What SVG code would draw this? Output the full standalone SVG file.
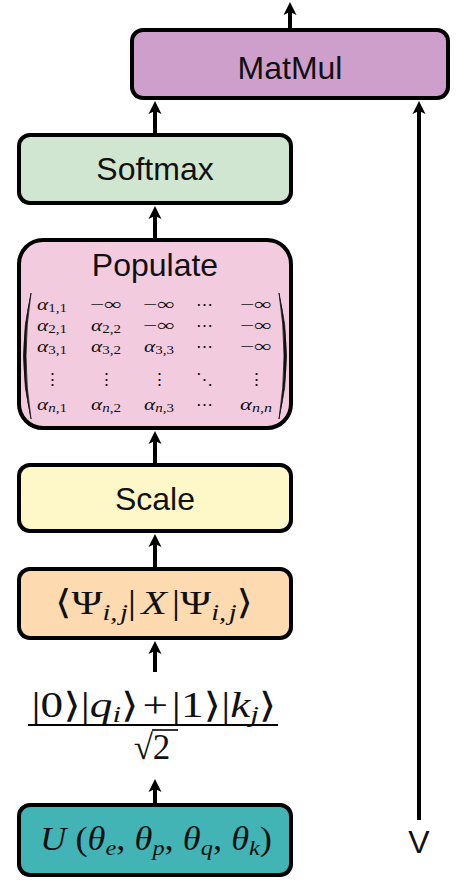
<svg xmlns="http://www.w3.org/2000/svg" width="456" height="882" viewBox="0 0 456 882">
<defs>
<style>
.box{stroke:#000;stroke-width:4}
.lbl{font-family:"Liberation Sans",Arial,sans-serif;font-size:32px;text-anchor:middle;fill:#111}
.m{font-family:"Liberation Serif","DejaVu Serif",serif;fill:#111;text-anchor:middle}
.i{font-style:italic}
.cn{stroke:#000;stroke-width:4;fill:none;marker-end:url(#ah)}
.mx{font-family:"Liberation Serif","DejaVu Serif",serif;font-size:17px;fill:#111;text-anchor:middle}
.s{font-size:12px}
.par{fill:#111;stroke:#111;stroke-width:0.8}
</style>
<marker id="ah" viewBox="-6 -8 16 16" markerWidth="16" markerHeight="16" refX="0" refY="0" orient="auto" markerUnits="userSpaceOnUse" overflow="visible">
<path d="M8,0 L-5,-6.5 L-2,0 L-5,6.5 Z" fill="#000"/>
</marker>
</defs>

<g id="connectors">
<line class="cn" x1="290" y1="28" x2="290" y2="10"/>
<line class="cn" x1="155" y1="133" x2="155" y2="109"/>
<line class="cn" x1="155" y1="238" x2="155" y2="214"/>
<line class="cn" x1="155" y1="463" x2="155" y2="439"/>
<line class="cn" x1="155" y1="567" x2="155" y2="542"/>
<line class="cn" x1="155" y1="672" x2="155" y2="649" stroke-width="5"/>
<line class="cn" x1="155" y1="803" x2="155" y2="787"/>
<line class="cn" x1="419" y1="820" x2="419" y2="109"/>
</g>

<g id="matmul">
<rect class="box" x="132" y="30" width="316" height="68" rx="11" fill="#CF9FCB"/>
<text class="lbl" x="290" y="79">MatMul</text>
</g>

<g id="softmax">
<rect class="box" x="19" y="135" width="272" height="68" rx="11" fill="#D1E6D1"/>
<text class="lbl" x="155" y="180">Softmax</text>
</g>

<g id="populate">
<rect class="box" x="19" y="240" width="272" height="188" rx="24" fill="#F2CBDF"/>
<text class="lbl" x="155" y="276">Populate</text>
<path class="par" d="M31,293 Q16,356 31,419 Q21,356 31,293 Z"/>
<path class="par" d="M279,293 Q294,356 279,419 Q289,356 279,293 Z"/>
<text class="mx" x="52" y="310" textLength="30" lengthAdjust="spacingAndGlyphs"><tspan class="i">α</tspan><tspan class="s" dy="2">1,1</tspan></text>
<text class="mx" x="106" y="310" textLength="32" lengthAdjust="spacingAndGlyphs" font-size="18">−∞</text>
<text class="mx" x="159" y="310" textLength="32" lengthAdjust="spacingAndGlyphs" font-size="18">−∞</text>
<text class="mx" x="204" y="310">⋯</text>
<text class="mx" x="256" y="310" textLength="32" lengthAdjust="spacingAndGlyphs" font-size="18">−∞</text>
<text class="mx" x="52" y="331" textLength="30" lengthAdjust="spacingAndGlyphs"><tspan class="i">α</tspan><tspan class="s" dy="2">2,1</tspan></text>
<text class="mx" x="106" y="331" textLength="30" lengthAdjust="spacingAndGlyphs"><tspan class="i">α</tspan><tspan class="s" dy="2">2,2</tspan></text>
<text class="mx" x="159" y="331" textLength="32" lengthAdjust="spacingAndGlyphs" font-size="18">−∞</text>
<text class="mx" x="204" y="331">⋯</text>
<text class="mx" x="256" y="331" textLength="32" lengthAdjust="spacingAndGlyphs" font-size="18">−∞</text>
<text class="mx" x="52" y="352" textLength="30" lengthAdjust="spacingAndGlyphs"><tspan class="i">α</tspan><tspan class="s" dy="2">3,1</tspan></text>
<text class="mx" x="106" y="352" textLength="30" lengthAdjust="spacingAndGlyphs"><tspan class="i">α</tspan><tspan class="s" dy="2">3,2</tspan></text>
<text class="mx" x="159" y="352" textLength="30" lengthAdjust="spacingAndGlyphs"><tspan class="i">α</tspan><tspan class="s" dy="2">3,3</tspan></text>
<text class="mx" x="204" y="352">⋯</text>
<text class="mx" x="256" y="352" textLength="32" lengthAdjust="spacingAndGlyphs" font-size="18">−∞</text>
<text class="mx" x="52" y="385">⋮</text>
<text class="mx" x="106" y="385">⋮</text>
<text class="mx" x="159" y="385">⋮</text>
<text class="mx" x="204" y="385">⋱</text>
<text class="mx" x="256" y="385">⋮</text>
<text class="mx" x="52" y="410" textLength="30" lengthAdjust="spacingAndGlyphs"><tspan class="i">α</tspan><tspan class="i s" dy="2">n</tspan><tspan class="s">,1</tspan></text>
<text class="mx" x="106" y="410" textLength="30" lengthAdjust="spacingAndGlyphs"><tspan class="i">α</tspan><tspan class="i s" dy="2">n</tspan><tspan class="s">,2</tspan></text>
<text class="mx" x="159" y="410" textLength="30" lengthAdjust="spacingAndGlyphs"><tspan class="i">α</tspan><tspan class="i s" dy="2">n</tspan><tspan class="s">,3</tspan></text>
<text class="mx" x="204" y="410">⋯</text>
<text class="mx" x="256" y="410" textLength="32" lengthAdjust="spacingAndGlyphs"><tspan class="i">α</tspan><tspan class="i s" dy="2">n,n</tspan></text>
</g>

<g id="scale">
<rect class="box" x="19" y="465" width="272" height="66" rx="11" fill="#FEF7C8"/>
<text class="lbl" x="155" y="510">Scale</text>
</g>

<g id="expectation">
<rect class="box" x="19" y="569" width="272" height="69" rx="11" fill="#FDDAB0"/>
<text class="m" x="154" y="614" font-size="34" textLength="198" lengthAdjust="spacingAndGlyphs">⟨Ψ<tspan class="i" font-size="23" dy="6">i,</tspan><tspan class="i" font-size="23" dx="2">j</tspan><tspan dy="-6">|</tspan><tspan class="i" dx="4">X</tspan><tspan dx="4">|Ψ</tspan><tspan class="i" font-size="23" dy="6">i,</tspan><tspan class="i" font-size="23" dx="2">j</tspan><tspan dy="-6">⟩</tspan></text>
</g>

<g id="state">
<text class="m" x="154" y="717" font-size="35" textLength="245" lengthAdjust="spacingAndGlyphs">|0⟩|<tspan class="i">q</tspan><tspan class="i" font-size="24" dy="5">i</tspan><tspan dy="-5">⟩</tspan><tspan dx="3">+</tspan><tspan dx="3">|1⟩|</tspan><tspan class="i">k</tspan><tspan class="i" font-size="24" dy="5">j</tspan><tspan dy="-5">⟩</tspan></text>
<line x1="28" y1="725" x2="278" y2="725" stroke="#000" stroke-width="2"/>
<text class="m" x="152" y="759" font-size="35">√2</text>
<line x1="152" y1="730" x2="178" y2="730" stroke="#000" stroke-width="1.6"/>
</g>

<g id="unitary">
<rect class="box" x="19" y="805" width="272" height="70" rx="11" fill="#43B4B5"/>
<text class="m" x="156" y="850" font-size="33" textLength="232" lengthAdjust="spacingAndGlyphs"><tspan class="i">U</tspan> (<tspan class="i">θ</tspan><tspan class="i" font-size="22" dy="5">e</tspan><tspan dy="-5">, </tspan><tspan class="i">θ</tspan><tspan class="i" font-size="22" dy="5">p</tspan><tspan dy="-5">, </tspan><tspan class="i">θ</tspan><tspan class="i" font-size="22" dy="5">q</tspan><tspan dy="-5">, </tspan><tspan class="i">θ</tspan><tspan class="i" font-size="22" dy="5">k</tspan><tspan dy="-5">)</tspan></text>
</g>

<g id="v-label">
<text class="lbl" x="419" y="853">V</text>
</g>
</svg>
